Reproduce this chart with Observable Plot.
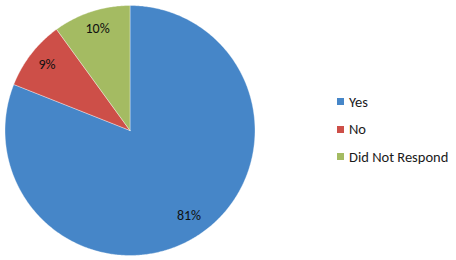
<!DOCTYPE html>
<html>
<head>
<meta charset="utf-8">
<script src="https://cdn.jsdelivr.net/npm/d3@7"></script>
<script src="https://cdn.jsdelivr.net/npm/@observablehq/plot@0.6"></script>
<style>
  html, body { margin: 0; padding: 0; background: #fff; }
  #wrap { position: relative; width: 456px; height: 260px; }
  #legend { position: absolute; left: 337px; top: 88px; font-family: Carlito, "Open Sans", "Liberation Sans", sans-serif; font-size: 14.5px; color: #1a1a1a; }
  .item { display: flex; align-items: center; height: 27.5px; }
  .sw { width: 7px; height: 7px; margin-right: 5px; }
</style>
</head>
<body>
<div id="wrap"></div>
<script>
const categories = ["Yes", "No", "Did Not Respond"];
const values = [81, 9, 10];
const labels = ["81%", "9%", "10%"];
const colors = ["#4686C8", "#CD4F48", "#A4BB62"];

// Build slice outlines (unit circle, angle clockwise from top)
const total = d3.sum(values);
const pts = [];
const labs = [];
let start = 0;
categories.forEach((c, i) => {
  const end = start + values[i] / total * 2 * Math.PI;
  pts.push({cat: c, x: 0, y: 0});
  const n = Math.max(2, Math.ceil((end - start) / 0.01));
  for (let k = 0; k <= n; k++) {
    const a = start + (end - start) * k / n;
    pts.push({cat: c, x: Math.sin(a), y: Math.cos(a)});
  }
  pts.push({cat: c, x: 0, y: 0});
  const mid = (start + end) / 2;
  labs.push({cat: c, text: labels[i], x: 0.84 * Math.sin(mid), y: 0.84 * Math.cos(mid)});
  start = end;
});

const chart = Plot.plot({
  width: 456,
  height: 260,
  marginLeft: 4.5,
  marginRight: 201.5,
  marginTop: 5,
  marginBottom: 5,
  x: {domain: [-1, 1], axis: null},
  y: {domain: [-1, 1], axis: null},
  color: {domain: categories, range: colors},
  style: {background: "#fff"},
  marks: [
    Plot.line(pts, {x: "x", y: "y", z: "cat", fill: "cat", stroke: "#fff", strokeWidth: 0.6, strokeOpacity: 0.6, curve: "linear"}),
    Plot.text(labs, {x: "x", y: "y", text: "text", dy: -2, fill: "#111", fontSize: 14, fontFamily: "Carlito, 'Open Sans', 'Liberation Sans', sans-serif"})
  ]
});

const wrap = document.getElementById("wrap");
wrap.appendChild(chart);
const legend = document.createElement("div");
legend.id = "legend";
categories.forEach((c, i) => {
  const it = document.createElement("div");
  it.className = "item";
  const sw = document.createElement("span");
  sw.className = "sw";
  sw.style.background = colors[i];
  const t = document.createElement("span");
  t.textContent = c;
  it.appendChild(sw);
  it.appendChild(t);
  legend.appendChild(it);
});
wrap.appendChild(legend);
</script>
</body>
</html>
